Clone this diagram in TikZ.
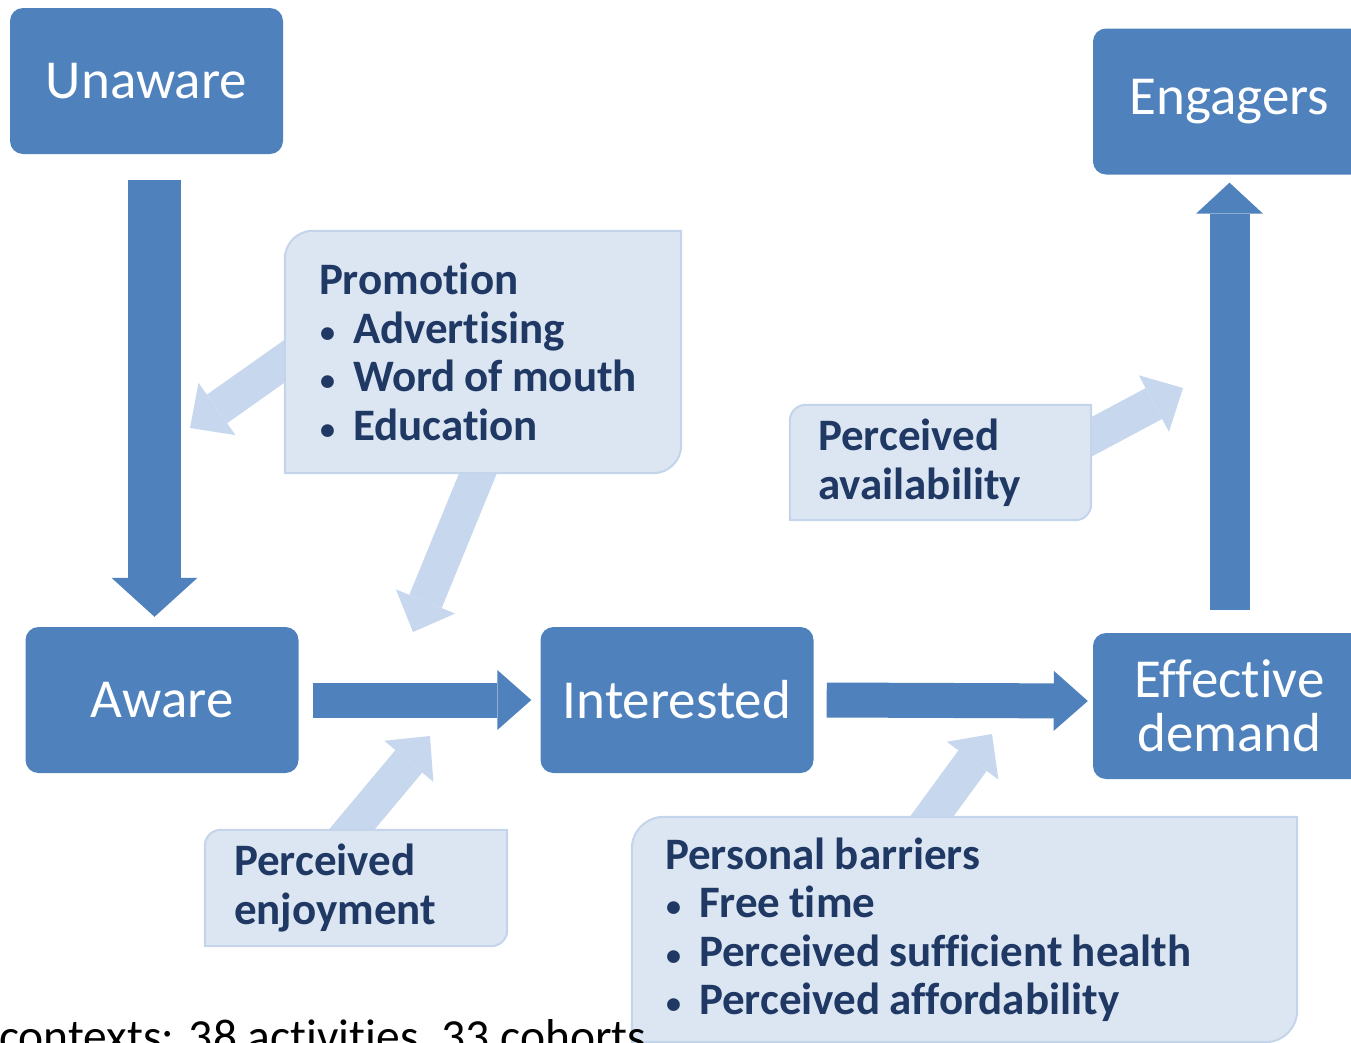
\documentclass[tikz,border=0pt]{standalone}
\usepackage{fontspec}
\setmainfont{Carlito}[Ligatures=NoCommon]
\usetikzlibrary{arrows.meta,backgrounds}
\definecolor{boxblue}{HTML}{4F81BD}
\definecolor{paleblue}{HTML}{DCE6F2}
\definecolor{paleedge}{HTML}{C4D5EB}
\definecolor{arrowpale}{HTML}{C6D7EE}
\definecolor{inkblue}{HTML}{1F3864}
\newcommand\bul{\makebox[34pt][l]{\hspace{1pt}\raisebox{1pt}{\fontsize{30}{30}\selectfont\textbullet}}}
\newcommand\tightgaps{\spaceskip=9pt\relax}
\begin{document}
\begin{tikzpicture}[x=1pt,y=-1pt,
    stage/.style={fill=boxblue, text=white, rounded corners=13pt, minimum width=273pt, minimum height=146pt, inner sep=0pt, align=center, font=\fontsize{55}{54}\selectfont},
    factor/.style={text=inkblue, align=left, inner ysep=0pt, font=\fontsize{45}{48.5}\selectfont\bfseries},
    flow/.style={boxblue, line width=#1},
    nudge/.style={arrowpale, line width=35pt, shorten <=-20pt, -{Triangle[width=64pt,length=33pt,line width=0pt]}}]
    \useasboundingbox (0,0) rectangle (1351,1042);
    \clip (0,0) rectangle (1351,1042);
    % stages
    \node[stage] (unaware) at (146.5,81) {Unaware};
    \node[stage] (engagers) at (1229.5,101.5) {Engagers};
    \node[stage] (aware) at (162,700) {Aware};
    \node[stage] (interested) at (677,700) {Interested};
    \node[stage] (effective) at (1229.5,706) {Effective\\demand};
    % factors
    \node[factor, minimum width=396pt, minimum height=242pt, inner xsep=34pt, text width=328pt] (promo) at (483,352) {\tightgaps Promotion\\\bul Advertising\\\bul Word of mouth\\\bul Education};
    \node[factor, minimum width=301pt, minimum height=115pt, inner xsep=28pt, text width=245pt] (avail) at (940.5,462.5) {Perceived\\availability};
    \node[factor, minimum width=302pt, minimum height=116pt, inner xsep=29pt, text width=244pt] (enjoy) at (356,888) {Perceived\\enjoyment};
    \node[factor, minimum width=665pt, minimum height=225pt, inner xsep=33pt, text width=599pt] (barrier) at (964.5,929.5) {\tightgaps Personal barriers\\\bul Free time\\\bul Perceived sufficient health\\\bul Perceived affordability};
    % main flow
    \draw[flow=53pt, -{Triangle[width=86pt,length=39pt,line width=0pt]}] ([xshift=8pt,yshift=-26pt]unaware.south) -- ([xshift=-7.5pt,yshift=10pt]aware.north);
    \draw[flow=35pt, -{Triangle[width=60pt,length=34pt,line width=0pt]}] ([xshift=14pt]aware.east) -- ([xshift=-9pt]interested.west);
    \draw[flow=35pt, -{Triangle[width=60pt,length=34pt,line width=0pt]}] ([xshift=13pt]interested.east) -- ([xshift=-5pt,yshift=5pt]effective.west);
    \draw[flow=40pt, -{Triangle[width=67pt,length=31pt,line width=0pt]}] ([yshift=23pt]effective.north) -- ([yshift=-8pt]engagers.south);
    % influences
    \coordinate (aimA) at (190,428);
    \coordinate (aimB) at (413,632);
    \coordinate (aimC) at (1183,388);
    \coordinate (aimD) at (430,736);
    \coordinate (aimE) at (992,734);
    \begin{pgfonlayer}{background}
        \draw[nudge] ([yshift=-9pt]promo.west) -- (aimA);
        \draw[nudge] ([xshift=-5pt]promo.south) -- (aimB);
        \draw[nudge] ([yshift=25.5pt]avail.east) -- (aimC);
        \draw[nudge] ([xshift=-4.5pt]enjoy.north) -- (aimD);
        \draw[nudge] ([xshift=-33pt]barrier.north) -- (aimE);
        \foreach \b/\r in {promo/28,avail/16,enjoy/16,barrier/32}
            \draw[paleedge, fill=paleblue, line width=2pt] (\b.south west) [rounded corners=\r pt] -- (\b.north west) [sharp corners] -- (\b.north east) [rounded corners=\r pt] -- (\b.south east) [sharp corners] -- cycle;
    \end{pgfonlayer}
    \node[anchor=base west, inner sep=0pt, font=\fontsize{47.5}{47.5}\selectfont] (note) at (-1,1052) {contexts: 38 activities, 33 cohorts};
\end{tikzpicture}
\end{document}
